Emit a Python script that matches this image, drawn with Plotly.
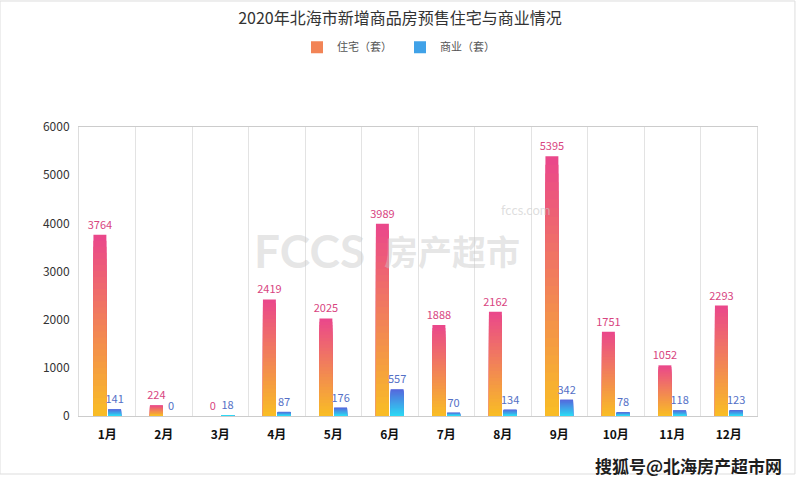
import plotly.graph_objects as go

months = ["1月", "2月", "3月", "4月", "5月", "6月", "7月", "8月", "9月", "10月", "11月", "12月"]
residential = [3764, 224, 0, 2419, 2025, 3989, 1888, 2162, 5395, 1751, 1052, 2293]
commercial = [141, 0, 18, 87, 176, 557, 70, 134, 342, 78, 118, 123]

FONT = "Noto Sans CJK SC, Microsoft YaHei, sans-serif"
N = 30  # layers used to fake the vertical gradient


def mix(c1, c2, t):
    r = [round(a + (b - a) * t) for a, b in zip(c1, c2)]
    return f"rgb({r[0]},{r[1]},{r[2]})"


def add_gradient_bars(fig, values, name, bottom, top, label_color, group):
    # overlaid bars, tallest first, each one a bit shorter and closer to the bottom colour
    for k in range(N):
        frac = (N - k) / N
        fig.add_trace(go.Bar(
            x=months,
            y=[v * frac for v in values],
            offsetgroup=group,
            marker=dict(color=mix(bottom, top, frac - 0.5 / N), line=dict(width=0)),
            name=name,
            legendgroup=group,
            showlegend=(k == N // 2),
            hoverinfo="skip",
        ))
    # transparent full bar for labels / hover
    fig.add_trace(go.Bar(
        x=months,
        y=values,
        offsetgroup=group,
        marker=dict(color="rgba(0,0,0,0)", line=dict(width=0)),
        text=[str(v) for v in values],
        textposition="outside",
        constraintext="none",
        textfont=dict(color=label_color, size=11, family=FONT),
        cliponaxis=False,
        name=name,
        legendgroup=group,
        showlegend=False,
        hovertemplate="%{x}: %{y}<extra>" + name + "</extra>",
    ))


fig = go.Figure()
add_gradient_bars(fig, residential, "住宅（套）", (249, 190, 36), (234, 70, 140), "#d8457f", "res")
add_gradient_bars(fig, commercial, "商业（套）", (44, 218, 244), (86, 102, 220), "#5470c6", "com")

# watermarks
fig.add_annotation(x=0.255, y=0.572, xref="paper", yref="paper", text="<b>FCCS</b>",
                   showarrow=False, font=dict(size=46, color="rgba(200,200,200,0.45)", family="Lato, sans-serif"))
fig.add_annotation(x=0.55, y=0.572, xref="paper", yref="paper", text="<b>房产超市</b>",
                   showarrow=False, font=dict(size=34, color="rgba(200,200,200,0.45)", family=FONT))
fig.add_annotation(x=0.66, y=0.748, xref="paper", yref="paper", text="fccs.com",
                   showarrow=False, font=dict(size=13, color="rgba(200,200,200,0.6)", family="Lato, sans-serif"))
fig.add_annotation(x=1.04, y=-0.17, xref="paper", yref="paper", text="<b>搜狐号@北海房产超市网</b>",
                   xanchor="right", yanchor="middle", showarrow=False,
                   font=dict(size=17, color="#1e1e1e", family=FONT, shadow="1px 1px 1px white"))

# outer frame of the picture
fig.add_shape(type="rect", xref="paper", yref="paper", x0=-0.1165, x1=1.056, y0=-0.2007, y1=1.436,
              line=dict(color="#dddddd", width=1))

fig.update_layout(
    title=dict(text="2020年北海市新增商品房预售住宅与商业情况", x=0.5, xref="container", xanchor="center",
               y=0.962, yanchor="middle", font=dict(size=16, color="#333333", family=FONT)),
    barmode="group",
    bargap=0.48,
    bargroupgap=0.12,
    width=800,
    height=481,
    margin=dict(l=79, r=43, t=127, b=65),
    plot_bgcolor="white",
    paper_bgcolor="white",
    showlegend=True,
    legend=dict(orientation="h", x=0.5, xanchor="center", xref="container", y=0.902, yanchor="middle",
                yref="container", font=dict(size=11, color="#555555", family=FONT),
                itemwidth=30, entrywidth=58, itemclick=False, itemdoubleclick=False),
    font=dict(family=FONT),
)

fig.update_xaxes(
    type="category",
    tickson="boundaries",
    showgrid=True,
    gridcolor="#e3e3e3",
    gridwidth=1,
    showline=True,
    linecolor="#cccccc",
    mirror=True,
    ticks="",
    ticklabelstandoff=8,
    tickfont=dict(size=12, color="#111111", family=FONT, weight="bold"),
)
fig.update_yaxes(
    range=[0, 6000],
    dtick=1000,
    showgrid=False,
    zeroline=False,
    showline=True,
    linecolor="#dddddd",
    mirror=True,
    ticks="",
    ticklabelstandoff=6,
    tickfont=dict(size=12, color="#333333", family=FONT),
)

fig.write_html("out.html", config={"displayModeBar": False},
               post_script="document.body.style.margin='0';")
